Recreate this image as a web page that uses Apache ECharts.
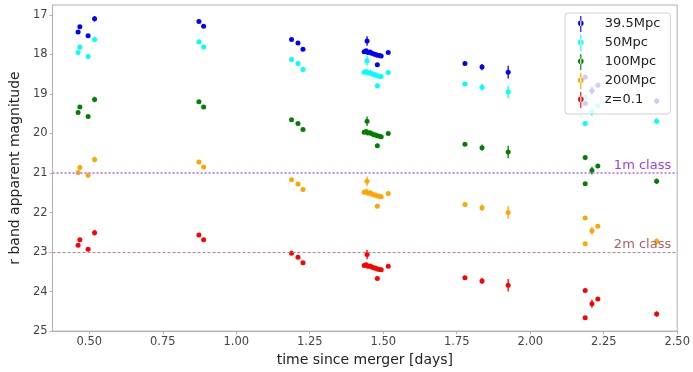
<!DOCTYPE html>
<html>
<head>
<meta charset="utf-8">
<script src="https://cdn.jsdelivr.net/npm/echarts@6/dist/echarts.min.js"></script>
<style>
  html, body { margin: 0; padding: 0; background: #fff; }
  #chart { width: 693px; height: 372px; }
</style>
</head>
<body>
<div id="chart"></div>
<script>
// observation epochs (days since merger), same for every distance
var times = [0.462, 0.468, 0.496, 0.518, 0.873, 0.889, 1.188, 1.210, 1.227,
  1.445, 1.435, 1.442, 1.448, 1.455, 1.461, 1.468, 1.474, 1.480, 1.487, 1.493,
  1.480, 1.517, 1.778, 1.836, 1.925, 2.187, 2.187, 2.210, 2.230, 2.430];
var errors = [0.03, 0.03, 0.03, 0.07, 0.03, 0.03, 0.03, 0.03, 0.03,
  0.12, 0.04, 0.04, 0.04, 0.04, 0.04, 0.04, 0.04, 0.04, 0.04, 0.04,
  0.03, 0.03, 0.03, 0.08, 0.16, 0.03, 0.03, 0.10, 0.04, 0.07];

var names = ['39.5Mpc', '50Mpc', '100Mpc', '200Mpc', 'z=0.1'];
var colors = ['#0000ff', '#00ffff', '#007f00', '#ffa500', '#ff0000'];

var mag395 = [17.43, 17.30, 17.53, 17.10, 17.17, 17.29, 17.62, 17.71, 17.87,
  17.66, 17.93, 17.91, 17.95, 17.94, 17.97, 17.99, 18.00, 18.02, 18.03, 18.04,
  18.26, 17.95, 18.23, 18.32, 18.45, 18.58, 19.24, 18.92, 18.78, 19.18];
var mag50 = [17.95, 17.82, 18.05, 17.62, 17.68, 17.81, 18.13, 18.23, 18.38,
  18.16, 18.45, 18.43, 18.47, 18.46, 18.49, 18.51, 18.52, 18.54, 18.55, 18.56,
  18.79, 18.46, 18.75, 18.83, 18.95, 19.09, 19.75, 19.45, 19.30, 19.69];
var mag100 = [19.47, 19.33, 19.57, 19.14, 19.20, 19.33, 19.65, 19.75, 19.90,
  19.69, 19.97, 19.95, 19.99, 19.98, 20.01, 20.03, 20.04, 20.06, 20.07, 20.08,
  20.31, 20.00, 20.27, 20.36, 20.47, 20.61, 21.27, 20.94, 20.82, 21.21];
var mag200 = [20.99, 20.86, 21.06, 20.66, 20.72, 20.85, 21.17, 21.28, 21.42,
  21.21, 21.49, 21.47, 21.51, 21.50, 21.53, 21.55, 21.56, 21.58, 21.59, 21.60,
  21.84, 21.52, 21.80, 21.88, 22.00, 22.14, 22.79, 22.46, 22.35, 22.73];
var magZ01 = [22.83, 22.69, 22.93, 22.51, 22.57, 22.69, 23.03, 23.13, 23.27,
  23.06, 23.34, 23.32, 23.36, 23.35, 23.38, 23.40, 23.41, 23.43, 23.44, 23.45,
  23.67, 23.36, 23.65, 23.73, 23.84, 23.97, 24.66, 24.31, 24.19, 24.57];

var xTicks = [0.5, 0.75, 1.0, 1.25, 1.5, 1.75, 2.0, 2.25, 2.5];
var yTicks = [17, 18, 19, 20, 21, 22, 23, 24, 25];

var allMags = [mag395, mag50, mag100, mag200, magZ01];

var chart = echarts.init(document.getElementById('chart'));

// errorbar-like legend handle: thin vertical line plus a dot
var errIcon = 'path://M4.3,0 L5.7,0 L5.7,20 L4.3,20 Z M1.5,9 A3.5,3.5 0 1,0 8.5,9 A3.5,3.5 0 1,0 1.5,9 Z';

function makeSeries(i) {
  var col = colors[i];
  var data = times.map(function (t, k) { return [t, allMags[i][k], errors[k]]; });
  return {
    name: names[i],
    type: 'custom',
    data: data,
    encode: { x: 0, y: 1 },
    itemStyle: { color: col },
    renderItem: function (params, api) {
      var t = api.value(0), m = api.value(1), e = api.value(2);
      var p = api.coord([t, m]);
      var lo = api.coord([t, m - e]);
      var hi = api.coord([t, m + e]);
      return {
        type: 'group',
        children: [
          { type: 'line', shape: { x1: p[0], y1: lo[1], x2: p[0], y2: hi[1] },
            style: { stroke: col, lineWidth: 1.3 } },
          { type: 'circle', shape: { cx: p[0], cy: p[1], r: 2.5 },
            style: { fill: col } }
        ]
      };
    }
  };
}

var series = [];
for (var i = 0; i < names.length; i++) series.push(makeSeries(i));

// telescope limit lines
series.push({
  type: 'line',
  data: [],
  silent: true,
  markLine: {
    symbol: 'none',
    silent: true,
    animation: false,
    data: [
      { yAxis: 21,
        lineStyle: { color: '#c48af0', width: 1.8, type: [2, 2] },
        label: { formatter: '1m class', position: 'insideEndTop', color: '#a040e0',
                 fontSize: 13, fontFamily: 'DejaVu Sans', distance: [6, 1] } },
      { yAxis: 23,
        lineStyle: { color: '#cc8080', width: 1.2, type: [3, 2] },
        label: { formatter: '2m class', position: 'insideEndTop', color: '#b06060',
                 fontSize: 13, fontFamily: 'DejaVu Sans', distance: [6, 1] } }
    ]
  }
});

var option = {
  animation: false,
  backgroundColor: '#fff',
  textStyle: { fontFamily: 'DejaVu Sans' },
  grid: { left: 45, right: 15, top: 5, bottom: 34, show: true,
          borderColor: '#b0b0b0', borderWidth: 1 },
  legend: {
    data: names.map(function (n) { return { name: n, icon: errIcon }; }),
    orient: 'vertical',
    left: 565, top: 13,
    itemWidth: 10, itemHeight: 16, itemGap: 3,
    padding: [3, 10, 6, 13],
    backgroundColor: 'rgba(255,255,255,0.8)',
    borderColor: '#d0d0d0', borderWidth: 1, borderRadius: 3,
    textStyle: { fontSize: 13, color: '#222', fontFamily: 'DejaVu Sans', padding: [0, 0, 0, 14] }
  },
  xAxis: {
    type: 'value',
    min: 0.375, max: 2.5,
    name: 'time since merger [days]',
    nameLocation: 'middle', nameGap: 17,
    nameTextStyle: { fontSize: 14, color: '#222' },
    axisLine: { show: true, lineStyle: { color: '#b0b0b0' } },
    axisTick: { show: true, length: 3, customValues: xTicks, lineStyle: { color: '#b0b0b0' } },
    axisLabel: { customValues: xTicks, fontSize: 11.5, color: '#444', margin: 5,
                 formatter: function (v) { return v.toFixed(2); } },
    splitLine: { show: false }
  },
  yAxis: {
    type: 'value',
    inverse: true,
    min: 16.75, max: 25,
    name: 'r band apparent magnitude',
    nameLocation: 'middle', nameGap: 25,
    nameTextStyle: { fontSize: 14, color: '#222' },
    axisLine: { show: true, lineStyle: { color: '#b0b0b0' } },
    axisTick: { show: true, length: 3, customValues: yTicks, lineStyle: { color: '#b0b0b0' } },
    axisLabel: { customValues: yTicks, fontSize: 11.5, color: '#444', margin: 5 },
    splitLine: { show: false }
  },
  series: series
};

chart.setOption(option);
</script>
</body>
</html>
